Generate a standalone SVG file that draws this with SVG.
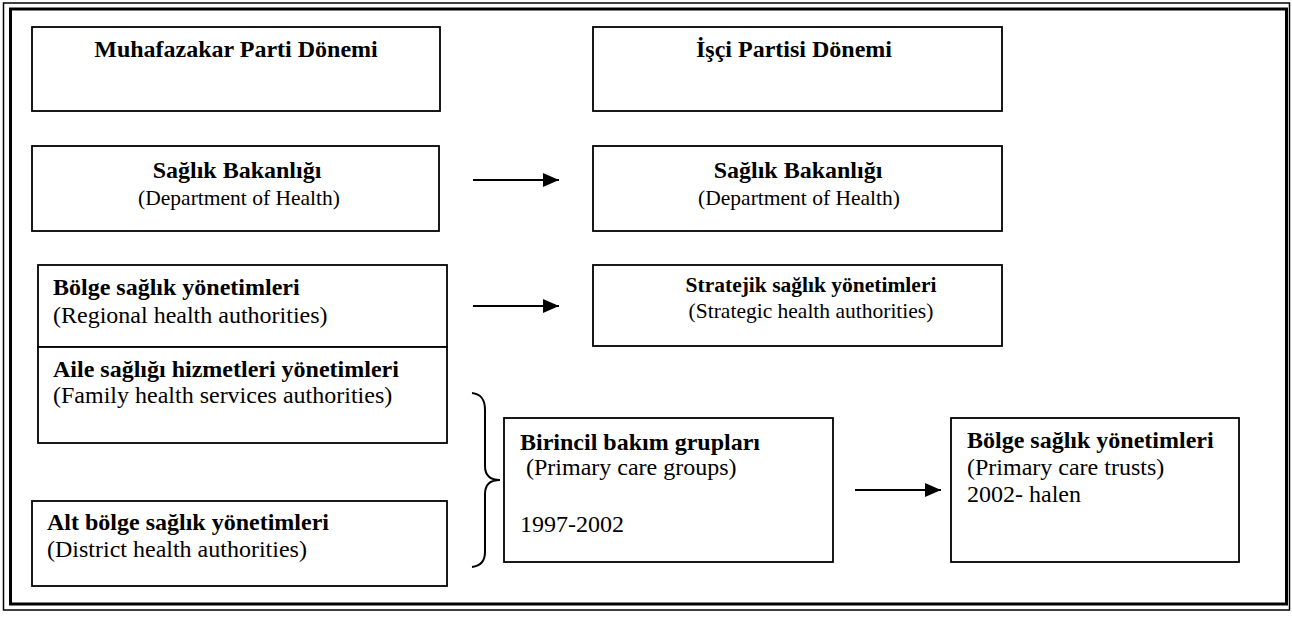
<svg xmlns="http://www.w3.org/2000/svg" width="1292" height="617" viewBox="0 0 1292 617">
<style>
.box{fill:#fff;stroke:#000;stroke-width:1.8}
.b{font-family:"Liberation Serif","Times New Roman",serif;font-weight:bold;font-size:24px;fill:#000}
.r{font-family:"Liberation Serif","Times New Roman",serif;font-size:24px;fill:#000}
.c{text-anchor:middle}
.con{stroke:#000;stroke-width:2;fill:none}
</style>
<defs>
<marker id="ah" markerWidth="16" markerHeight="14" refX="16" refY="7" orient="auto" markerUnits="userSpaceOnUse">
<path d="M0,0 L16,7 L0,14 Z" fill="#000"/>
</marker>
</defs>
<rect x="0" y="0" width="1292" height="617" fill="#fff"/>
<g id="frame">
<rect x="3.5" y="3" width="1286" height="607" fill="none" stroke="#000" stroke-width="1.5"/>
<rect x="10.5" y="9" width="1276" height="595" fill="none" stroke="#000" stroke-width="3"/>
</g>
<g id="n1">
<rect class="box" x="32" y="27" width="408" height="84"/>
<text class="b c" x="236" y="57">Muhafazakar Parti Dönemi</text>
</g>
<g id="n2">
<rect class="box" x="593" y="27" width="409" height="84"/>
<text class="b c" x="794" y="57">İşçi Partisi Dönemi</text>
</g>
<g id="n3">
<rect class="box" x="32" y="146" width="407" height="85"/>
<text class="b c" x="237" y="178">Sağlık Bakanlığı</text>
<text class="r c" x="239" y="205" style="font-size:21.5px">(Department of Health)</text>
</g>
<g id="n4">
<rect class="box" x="593" y="146" width="409" height="85"/>
<text class="b c" x="798" y="178">Sağlık Bakanlığı</text>
<text class="r c" x="799" y="205" style="font-size:21.5px">(Department of Health)</text>
</g>
<g id="n5">
<rect class="box" x="38" y="265" width="409" height="82"/>
<text class="b" x="53" y="295">Bölge sağlık yönetimleri</text>
<text class="r" x="53" y="323">(Regional health authorities)</text>
</g>
<g id="n6">
<rect class="box" x="38" y="347" width="409" height="96"/>
<text class="b" x="53" y="377">Aile sağlığı hizmetleri yönetimleri</text>
<text class="r" x="53" y="403">(Family health services authorities)</text>
</g>
<g id="n7">
<rect class="box" x="593" y="265" width="409" height="81"/>
<text class="b c" x="811" y="292" style="font-size:21.5px">Stratejik sağlık yönetimleri</text>
<text class="r c" x="811" y="318" style="font-size:21.5px">(Strategic health authorities)</text>
</g>
<g id="n8">
<rect class="box" x="32" y="501" width="415" height="85"/>
<text class="b" x="47" y="530">Alt bölge sağlık yönetimleri</text>
<text class="r" x="47" y="557">(District health authorities)</text>
</g>
<g id="n9">
<rect class="box" x="504" y="418" width="329" height="144"/>
<text class="b" x="520" y="450">Birincil bakım grupları</text>
<text class="r" x="520" y="475" xml:space="preserve"> (Primary care groups)</text>
<text class="r" x="520" y="532">1997-2002</text>
</g>
<g id="n10">
<rect class="box" x="951" y="418" width="288" height="144"/>
<text class="b" x="967" y="448">Bölge sağlık yönetimleri</text>
<text class="r" x="967" y="475">(Primary care trusts)</text>
<text class="r" x="967" y="502">2002- halen</text>
</g>
<g id="connectors">
<line class="con" x1="473" y1="180" x2="559" y2="180" marker-end="url(#ah)"/>
<line class="con" x1="473" y1="306" x2="559" y2="306" marker-end="url(#ah)"/>
<line class="con" x1="855" y1="490" x2="941" y2="490" marker-end="url(#ah)"/>
<path class="con" d="M472,393 C480,394 485,398 485,410 L485,466 C485,476 490,480 500,480 C490,480 485,484 485,494 L485,552 C485,562 480,566 472,567"/>
</g>
</svg>
